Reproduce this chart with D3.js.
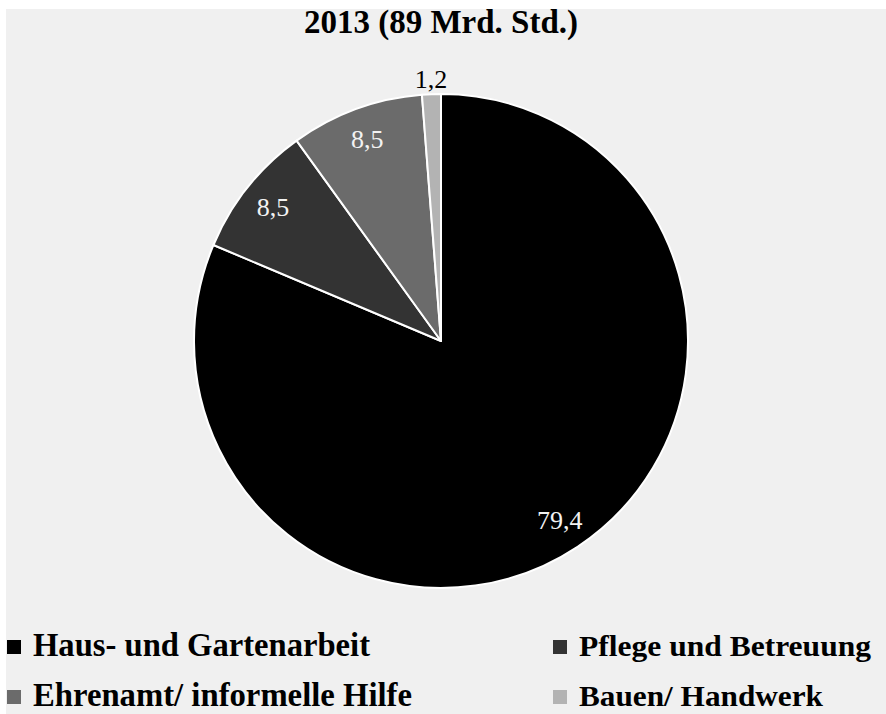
<!DOCTYPE html>
<html><head><meta charset="utf-8">
<script src="https://cdn.jsdelivr.net/npm/d3@7"></script>
<style>html,body{margin:0;padding:0;background:#fff;}svg{display:block;}</style>
</head><body>
<svg id="c" width="886" height="714"></svg>
<script>
const title = "2013 (89 Mrd. Std.)";
const categories = ["Haus- und Gartenarbeit", "Pflege und Betreuung", "Ehrenamt/ informelle Hilfe", "Bauen/ Handwerk"];
const values = [79.4, 8.5, 8.5, 1.2];
const valueLabels = ["79,4", "8,5", "8,5", "1,2"];
const colors = ["#000000", "#333333", "#6b6b6b", "#b3b3b3"];

const svg = d3.select("#c");
svg.append("rect").attr("x", 6).attr("y", 9).attr("width", 880).attr("height", 705).attr("fill", "#f0f0f0");

svg.append("text").attr("x", 441).attr("y", 33).attr("text-anchor", "middle")
  .attr("font-family", "Liberation Serif, Times New Roman, serif").attr("font-weight", "bold")
  .attr("font-size", 33).text(title);

const cx = 441, cy = 341, r = 247;
const data = categories.map((c, i) => ({cat: c, value: values[i], label: valueLabels[i], color: colors[i]}));
const pie = d3.pie().value(d => d.value).sort(null);
const arcs = pie(data);
const arc = d3.arc().innerRadius(0).outerRadius(r);
const g = svg.append("g").attr("transform", `translate(${cx},${cy})`);
g.selectAll("path").data(arcs).join("path")
  .attr("d", arc).attr("fill", d => d.data.color)
  .attr("stroke", "#ffffff").attr("stroke-width", 2).attr("stroke-linejoin", "round");

const inArc = d3.arc().innerRadius(r * 0.87).outerRadius(r * 0.87);
const outArc = d3.arc().innerRadius(r + 15).outerRadius(r + 15);
g.selectAll("text.lbl").data(arcs).join("text").attr("class", "lbl")
  .attr("transform", (d, i) => {
    const p = (i === 3 ? outArc : inArc).centroid(d);
    return `translate(${p[0]},${p[1]})`;
  })
  .attr("text-anchor", "middle").attr("dy", "0.35em")
  .attr("font-family", "Liberation Serif, Times New Roman, serif").attr("font-size", 26)
  .attr("fill", (d, i) => i === 3 ? "#000" : "#f2f2f2")
  .text(d => d.data.label);

// legend
const legPos = [[7, 656, 337], [553, 656, 292, 30], [7, 706, 379], [553, 706, 244, 30]];
const lg = svg.append("g");
data.forEach((d, i) => {
  const [x, y, w, fs] = legPos[i];
  lg.append("rect").attr("x", x).attr("y", y - 16).attr("width", 14).attr("height", 14).attr("fill", d.color);
  lg.append("text").attr("x", x + 26).attr("y", y)
    .attr("font-family", "Liberation Serif, Times New Roman, serif").attr("font-weight", "bold")
    .attr("font-size", fs || 33).attr("textLength", w).attr("lengthAdjust", "spacingAndGlyphs")
    .attr("fill", "#000").text(d.cat);
});
</script>
</body></html>
